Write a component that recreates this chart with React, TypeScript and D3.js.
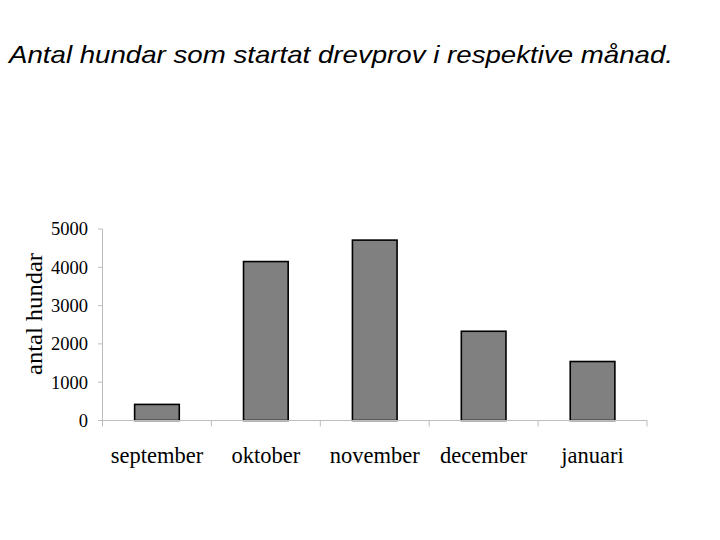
import React from "react";
import * as d3 from "d3";

const title = "Antal hundar som startat drevprov i respektive månad.";
const yLabel = "antal hundar";
const months = ["september", "oktober", "november", "december", "januari"];
const counts = [420, 4150, 4710, 2330, 1540];
const yTicks = [0, 1000, 2000, 3000, 4000, 5000];

export default function App() {
  const left = 102.5, right = 647, top = 229, bottom = 420.5;
  const x = d3.scaleBand<string>().domain(months).range([left, right]).paddingInner(0).paddingOuter(0);
  const y = d3.scaleLinear().domain([0, 5000]).range([bottom, top]);
  const bw = x.bandwidth() * 0.41;
  const axisColor = "#bdbdbd";
  const serif = "'Liberation Serif', 'Times New Roman', serif";
  const boundaries = [...months.map((m) => x(m) as number), right];
  return (
    <svg width={720} height={540} style={{ position: "absolute", left: 0, top: 0, background: "#fff" }}>
      <text
        x={9}
        y={62.5}
        fontFamily="'Liberation Sans', Arial, sans-serif"
        fontStyle="italic"
        fontSize={24}
        fill="#000"
        textLength={664}
        lengthAdjust="spacingAndGlyphs"
      >
        {title}
      </text>
      {/* y axis */}
      <line x1={left} x2={left} y1={top} y2={bottom} stroke={axisColor} strokeWidth={1} />
      {yTicks.map((t) => (
        <g key={t}>
          <line x1={left - 4.5} x2={left} y1={y(t)} y2={y(t)} stroke={axisColor} strokeWidth={1} />
          <text x={88} y={y(t)} dy="0.35em" textAnchor="end" fontFamily={serif} fontSize={18.5} fill="#000">
            {t}
          </text>
        </g>
      ))}
      <text
        transform={`translate(41.5, 314) rotate(-90)`}
        textAnchor="middle"
        fontFamily={serif}
        fontSize={23.5}
        fill="#000"
        textLength={122}
        lengthAdjust="spacingAndGlyphs"
      >
        {yLabel}
      </text>
      {/* bars */}
      {months.map((m, i) => {
        const cx = (x(m) as number) + x.bandwidth() / 2;
        return (
          <rect
            key={m}
            x={cx - bw / 2}
            y={y(counts[i])}
            width={bw}
            height={bottom - y(counts[i])}
            fill="#808080"
            stroke="#000"
            strokeWidth={1.6}
          />
        );
      })}
      {/* x axis */}
      <line x1={left} x2={right} y1={bottom} y2={bottom} stroke={axisColor} strokeWidth={1} />
      {boundaries.map((b, i) => (
        <line key={i} x1={b} x2={b} y1={bottom} y2={bottom + 6} stroke={axisColor} strokeWidth={1} />
      ))}
      {months.map((m) => (
        <text
          key={m}
          x={(x(m) as number) + x.bandwidth() / 2}
          y={463}
          textAnchor="middle"
          fontFamily={serif}
          fontSize={22.5}
          fill="#000"
        >
          {m}
        </text>
      ))}
    </svg>
  );
}
